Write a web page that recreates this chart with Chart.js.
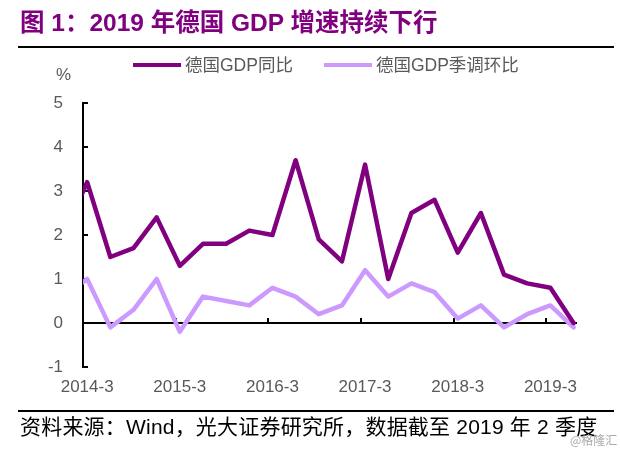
<!DOCTYPE html>
<html>
<head>
<meta charset="utf-8">
<script src="https://cdn.jsdelivr.net/npm/chart.js@4.4.1/dist/chart.umd.min.js"></script>
<style>
  body { margin: 0; background: #fff; }
  #wrap { position: relative; width: 620px; height: 452px; overflow: hidden;
          font-family: "Liberation Sans", Arial, "Noto Sans CJK SC", sans-serif; }
  #chart { position: absolute; left: 0; top: 0; }
  .title { position: absolute; left: 20px; top: 11px; font-size: 24.5px; line-height: 24px;
           font-weight: bold; color: #800080; white-space: nowrap; }
  .rule { position: absolute; left: 18px; width: 596px; height: 2px; background: #000; }
  .unit { position: absolute; left: 56px; top: 65px; font-size: 17px; line-height: 20px; color: #595959; }
  #legend { position: absolute; left: 133px; top: 55px; display: flex; align-items: center;
            font-size: 17.5px; line-height: 20px; color: #595959; white-space: nowrap; }
  #legend .item { display: flex; align-items: center; margin-right: 31px; }
  #legend .swatch { width: 48px; height: 4.5px; margin-right: 4px; }
  .source { position: absolute; left: 20px; top: 415px; font-size: 21px; line-height: 24px;
            color: #000; white-space: nowrap; letter-spacing: 0.2px; }
  .mark { position: absolute; left: 570px; top: 432px; font-size: 12px; line-height: 16px;
          color: #aaa; font-family: "Noto Sans CJK SC", sans-serif; }
</style>
</head>
<body>
<div id="wrap">
  <canvas id="chart" width="620" height="452"></canvas>
  <div class="title">图 1：2019 年德国 GDP 增速持续下行</div>
  <div class="rule" style="top:46px"></div>
  <div id="legend"></div>
  <div class="unit">%</div>
  <div class="rule" style="top:410px"></div>
  <div class="source">资料来源：Wind，光大证券研究所，数据截至 2019 年 2 季度</div>
  <div class="mark">@格隆汇</div>
</div>
<script>
// quarterly data, the first quarter is only partly visible at the left edge
const quarters = ['2013-12',
  '2014-3', '2014-6', '2014-9', '2014-12',
  '2015-3', '2015-6', '2015-9', '2015-12',
  '2016-3', '2016-6', '2016-9', '2016-12',
  '2017-3', '2017-6', '2017-9', '2017-12',
  '2018-3', '2018-6', '2018-9', '2018-12',
  '2019-3', '2019-6'];
const gdpYoy = [2.0,
  3.2, 1.5, 1.7, 2.4,
  1.3, 1.8, 1.8, 2.1,
  2.0, 3.7, 1.9, 1.4,
  3.6, 1.0, 2.5, 2.8,
  1.6, 2.5, 1.1, 0.9,
  0.8, 0.0];
const gdpQoq = [0.6,
  1.0, -0.1, 0.3, 1.0,
  -0.2, 0.6, 0.5, 0.4,
  0.8, 0.6, 0.2, 0.4,
  1.2, 0.6, 0.9, 0.7,
  0.1, 0.4, -0.1, 0.2,
  0.4, -0.1];
const seriesNames = ['德国GDP同比', '德国GDP季调环比'];
const seriesColors = ['#800080', '#CC99FF'];
const xTickLabels = ['2014-3', '2015-3', '2016-3', '2017-3', '2018-3', '2019-3'];
const yTicks = [-1, 0, 1, 2, 3, 4, 5];

const xMin = 0.82, xMax = 22.15;
const textGray = '#595959';

// legend
const legend = document.getElementById('legend');
seriesNames.forEach((name, i) => {
    const item = document.createElement('div');
    item.className = 'item';
    item.innerHTML = `<span class="swatch" style="background:${seriesColors[i]}"></span><span>${name}</span>`;
    legend.appendChild(item);
});

// axis line at zero, inner ticks on y axis, yearly ticks on the zero line
const axisMarks = {
    id: 'axisMarks',
    beforeDatasetsDraw(chart) {
        const {ctx, chartArea, scales: {x, y}} = chart;
        const y0 = Math.round(y.getPixelForValue(0));
        ctx.save();
        ctx.strokeStyle = '#000';
        ctx.lineWidth = 2;
        ctx.beginPath();
        ctx.moveTo(chartArea.left, y0);
        ctx.lineTo(chartArea.right, y0);
        yTicks.forEach(v => {
            const py = Math.round(y.getPixelForValue(v));
            ctx.moveTo(chartArea.left, py);
            ctx.lineTo(chartArea.left + 5, py);
        });
        for (let v = xMin + 4; v < xMax; v += 4) {
            const px = Math.round(x.getPixelForValue(v));
            ctx.moveTo(px, y0);
            ctx.lineTo(px, y0 - 5);
        }
        ctx.stroke();
        ctx.restore();
    }
};

const series = [gdpYoy, gdpQoq];

new Chart(document.getElementById('chart'), {
    type: 'line',
    data: {
        datasets: series.map((vals, i) => ({
            label: seriesNames[i],
            data: vals.map((v, k) => ({x: k, y: v})),
            borderColor: seriesColors[i],
            backgroundColor: seriesColors[i],
            borderWidth: 4.5,
            borderJoinStyle: 'round',
            borderCapStyle: 'round',
            pointRadius: 0,
            tension: 0,
            clip: 0
        }))
    },
    options: {
        responsive: false,
        animation: false,
        layout: { padding: { left: 0, right: 43, top: 103, bottom: 55 } },
        plugins: {
            legend: { display: false },
            tooltip: { enabled: false }
        },
        scales: {
            x: {
                type: 'linear',
                min: xMin,
                max: xMax,
                afterBuildTicks: sc => {
                    sc.ticks = xTickLabels.map(q => ({value: quarters.indexOf(q)}));
                },
                afterFit: sc => { sc.height = 30; },
                grid: { display: false, drawTicks: false },
                border: { display: false },
                ticks: {
                    autoSkip: false,
                    maxRotation: 0,
                    padding: 10,
                    color: textGray,
                    font: { family: '"Liberation Sans", Arial', size: 17 },
                    callback: v => quarters[v]
                }
            },
            y: {
                min: -1,
                max: 5,
                afterFit: sc => { sc.width = 83; },
                grid: { display: false, drawTicks: false },
                border: { display: true, color: '#000', width: 2 },
                ticks: {
                    stepSize: 1,
                    padding: 20,
                    color: textGray,
                    font: { family: '"Liberation Sans", Arial', size: 17 }
                }
            }
        }
    },
    plugins: [axisMarks]
});
</script>
</body>
</html>
